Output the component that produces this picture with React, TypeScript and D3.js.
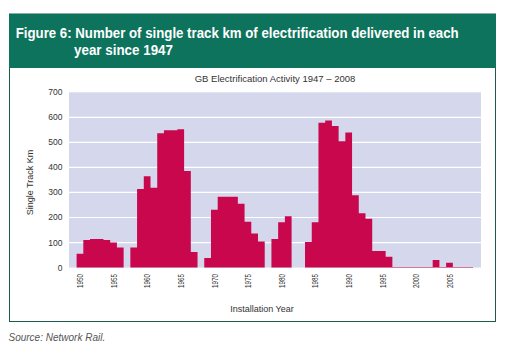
import React from "react";
import * as d3 from "d3";

const years: number[] = [
  1950, 1951, 1952, 1953, 1954, 1955, 1956, 1957, 1958, 1959,
  1960, 1961, 1962, 1963, 1964, 1965, 1966, 1967, 1968, 1969,
  1970, 1971, 1972, 1973, 1974, 1975, 1976, 1977, 1978, 1979,
  1980, 1981, 1982, 1983, 1984, 1985, 1986, 1987, 1988, 1989,
  1990, 1991, 1992, 1993, 1994, 1995, 1996, 1997, 1998, 1999,
  2000, 2001, 2002, 2003, 2004, 2005, 2006, 2007, 2008,
];

const trackKm: number[] = [
  55, 110, 114, 114, 110, 100, 80, 0, 80, 314,
  365, 319, 536, 548, 548, 552, 386, 62, 0, 38,
  231, 283, 283, 283, 255, 183, 136, 104, 0, 114,
  181, 205, 0, 0, 102, 181, 578, 587, 565, 505,
  539, 289, 217, 195, 66, 66, 43, 2, 2, 2,
  2, 2, 2, 30, 2, 19, 2, 2, 2,
];

const yTicks: number[] = [0, 100, 200, 300, 400, 500, 600, 700];
const xTickYears: number[] = [1950, 1955, 1960, 1965, 1970, 1975, 1980, 1985, 1990, 1995, 2000, 2005];

const titleLine1 = "Figure 6: Number of single track km of electrification delivered in each";
const titleLine2 = "year since 1947";
const subtitle = "GB Electrification Activity 1947 \u2013 2008";
const yLabel = "Single Track Km";
const xLabel = "Installation Year";
const source = "Source: Network Rail.";

export default function App() {
  const W = 507;
  const H = 356;
  const plotL = 69;
  const plotR = 481;
  const plotT = 92.3;
  const plotB = 267.6;

  const x = d3
    .scaleBand<number>()
    .domain(years)
    .range([76.6, 473])
    .paddingInner(0)
    .paddingOuter(0);
  const y = d3.scaleLinear().domain([0, 700]).range([plotB, plotT]);

  // bars: each run of consecutive non-zero years is one outline polygon (no seams between bars)
  let barPath = "";
  let open = false;
  years.forEach((yr, i) => {
    const v = trackKm[i];
    const x0 = x(yr) as number;
    const x1 = x0 + x.bandwidth();
    if (v > 0) {
      if (!open) {
        barPath += `M${x0},${plotB}`;
        open = true;
      }
      barPath += `V${y(v)}H${x1}`;
    } else if (open) {
      barPath += `V${plotB}Z`;
      open = false;
    }
  });
  if (open) barPath += `V${plotB}Z`;

  const font = "'Liberation Sans', Arial, Helvetica, sans-serif";
  const green = "#0d735c";

  return (
    <div style={{ position: "absolute", left: 0, top: 0 }}>
      <svg width={W} height={H} style={{ display: "block", fontFamily: font }}>
        <rect x={0} y={0} width={W} height={H} fill="#ffffff" />
        {/* outer box */}
        <rect x={9.5} y={14} width={486} height={307.5} fill="#ffffff" stroke="#1d5a4c" strokeWidth={1} />
        {/* header */}
        <rect x={9} y={14} width={487} height={54} fill={green} />
        <text x={15.7} y={38} fill="#ffffff" fontSize={14} fontWeight="bold" textLength={443} lengthAdjust="spacingAndGlyphs">
          {titleLine1}
        </text>
        <text x={74} y={54.5} fill="#ffffff" fontSize={14} fontWeight="bold" textLength={99} lengthAdjust="spacingAndGlyphs">
          {titleLine2}
        </text>
        {/* subtitle */}
        <text x={275} y={82} fill="#333333" fontSize={9.5} textAnchor="middle">
          {subtitle}
        </text>
        {/* plot background */}
        <rect x={plotL} y={plotT} width={plotR - plotL} height={plotB - plotT} fill="#d5d8ec" />
        {yTicks
          .filter((t) => t > 0 && t < 700)
          .map((t) => (
            <line key={"g" + t} x1={plotL} x2={plotR} y1={y(t)} y2={y(t)} stroke="#ffffff" strokeWidth={1.2} />
          ))}
        {/* bars */}
        <path d={barPath} fill="#c8074d" />
        {/* y tick labels */}
        {yTicks.map((t) => (
          <text key={"yt" + t} x={62.5} y={y(t)} dy="0.35em" textAnchor="end" fontSize={8.5} fill="#333333">
            {t}
          </text>
        ))}
        {/* x tick labels */}
        {xTickYears.map((yr) => {
          const cx = (x(yr) as number) + x.bandwidth() / 2;
          return (
            <text
              key={"xt" + yr}
              transform={`translate(${cx + 3.3},274) rotate(-90)`}
              textAnchor="end"
              fontSize={9.5}
              fill="#333333"
              textLength={14}
              lengthAdjust="spacingAndGlyphs"
            >
              {yr}
            </text>
          );
        })}
        {/* axis titles */}
        <text transform={`translate(32.5,182.5) rotate(-90)`} textAnchor="middle" fontSize={9} fill="#333333">
          {yLabel}
        </text>
        <text x={262} y={311.5} textAnchor="middle" fontSize={9} fill="#333333">
          {xLabel}
        </text>
        {/* source */}
        <text x={8.5} y={341} fontSize={10} fontStyle="italic" fill="#555555">
          {source}
        </text>
      </svg>
    </div>
  );
}
